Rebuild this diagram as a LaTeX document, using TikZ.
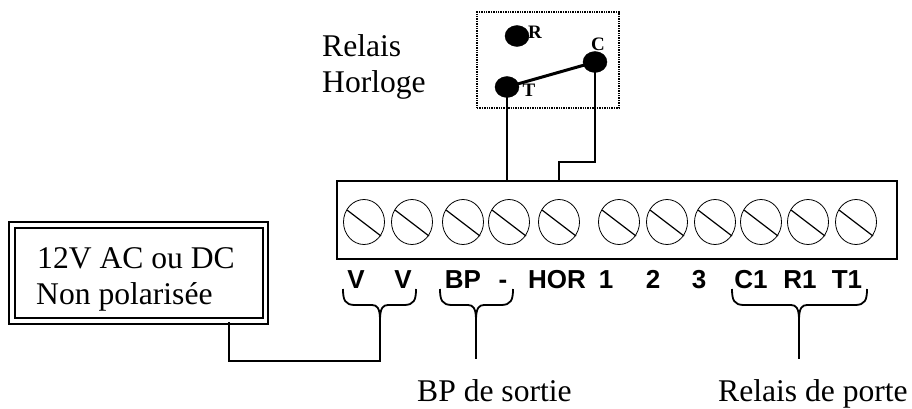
\documentclass[tikz,border=0pt]{standalone}
\usepackage{fontspec}
\setmainfont{Liberation Serif}
\newfontfamily\lblfont{Liberation Sans}
\usetikzlibrary{shapes.geometric,calc}
\tikzset{
  wire/.style={line width=1.8pt,black},
  txt/.style={inner sep=0pt,font=\fontsize{31.6}{38}\selectfont,anchor=base west},
  lbl/.style={inner sep=0pt,font=\lblfont\bfseries\fontsize{26}{31}\selectfont,anchor=base},
  pin/.style={ellipse,fill=black,draw=black,minimum width=24pt,minimum height=21pt,inner sep=0pt},
  pinlbl/.style={inner sep=0pt,font=\bfseries\fontsize{19}{22}\selectfont},
  brc/.style={line width=1.8pt,black}
}
\newcommand{\screw}[2]{%
  \node[draw=black,line width=0.8pt,ellipse,minimum width=41pt,minimum height=45pt,inner sep=0pt] (#1) at (#2,222) {};
  \draw[line width=1.2pt] ($(#2,222)+(-17,-12)$) -- ($(#2,222)+(17,14)$);
}
\newcommand{\mybrace}[4]{% left x, right x, tip x, name
  \coordinate (#4) at (#3,320);
  \draw[brc] (#1,289) .. controls (#1,300) and (#1+2,305) .. (#1+12,305) -- (#3-8,305) .. controls (#3-3,305) and (#3,308) .. (#3,320);
  \draw[brc] (#2,289) .. controls (#2,300) and (#2-2,305) .. (#2-12,305) -- (#3+8,305) .. controls (#3+3,305) and (#3,308) .. (#3,320);
}
\begin{document}
\begin{tikzpicture}[x=1pt,y=-1pt]
\useasboundingbox (0,0) rectangle (912,408);
% power box
\draw[line width=1.9pt] (9,222) rectangle (268,324);
\node[draw=black,line width=1.9pt,minimum width=248pt,minimum height=90pt,inner sep=0pt] (psu) at (139,273) {};
\node[txt] (t12) at (37,268) {12V AC ou DC};
\node[txt] (tnp) at (36,304) {Non polarisée};
% terminal
\node[draw=black,line width=1.5pt,minimum width=560pt,minimum height=78pt,inner sep=0pt] (term) at (617,220) {};
\screw{s1}{364}\screw{s2}{412}\screw{s3}{463}\screw{s4}{509}\screw{s5}{559}
\screw{s6}{619}\screw{s7}{667}\screw{s8}{715}\screw{s9}{761}\screw{s10}{808}\screw{s11}{856}
% labels
\node[lbl] (lV1) at (356,288) {V};
\node[lbl] (lV2) at (403,288) {V};
\node[lbl] (lBP) at (463,288) {BP};
\node[lbl] (lm) at (503,288) {-};
\node[lbl] (lHOR) at (557,288) {HOR};
\node[lbl] (l1) at (606,288) {1};
\node[lbl] (l2) at (653,288) {2};
\node[lbl] (l3) at (699,288) {3};
\node[lbl] (lC1) at (751,288) {C1};
\node[lbl] (lR1) at (800,288) {R1};
\node[lbl] (lT1) at (847,288) {T1};
% braces
\mybrace{343}{416}{380}{b1}
\mybrace{440}{513}{476}{b2}
\mybrace{732}{867}{799}{b3}
\coordinate (b1e) at (380,361);
\coordinate (b2e) at (476,359);
\coordinate (b3e) at (799,359);
\coordinate (pe) at (229,361);
\coordinate (ps) at (229,322);
\draw[wire] (b1) -- (b1e) -- (pe) -- (ps);
\draw[wire] (b2) -- (b2e);
\draw[wire] (b3) -- (b3e);
% relay
\node[draw=black,line width=1.4pt,densely dotted,minimum width=142pt,minimum height=96pt,inner sep=0pt] (rel) at (548,60) {};
\node[pin] (R) at (517,36) {};
\node[pin] (T) at (507,87) {};
\node[pin] (C) at (595,62) {};
\node[pinlbl] (Rl) at (535,32) {R};
\node[pinlbl] (Tl) at (529,90) {T};
\node[pinlbl] (Cl) at (598,44) {C};
\draw[line width=3pt] (T.center) -- (C.center);
\coordinate (c1) at (595,162);
\coordinate (c2) at (559,162);
\coordinate (c3) at (559,181);
\coordinate (t1) at (507,181);
\draw[wire] (T.center) -- (t1);
\draw[wire] (C.center) -- (c1) -- (c2) -- (c3);
\node[txt] (rh1) at (322,56) {Relais};
\node[txt] (rh2) at (322,92) {Horloge};
\node[txt] (bps) at (417,401) {BP de sortie};
\node[txt] (rdp) at (718,401) {Relais de porte};
\end{tikzpicture}
\end{document}
